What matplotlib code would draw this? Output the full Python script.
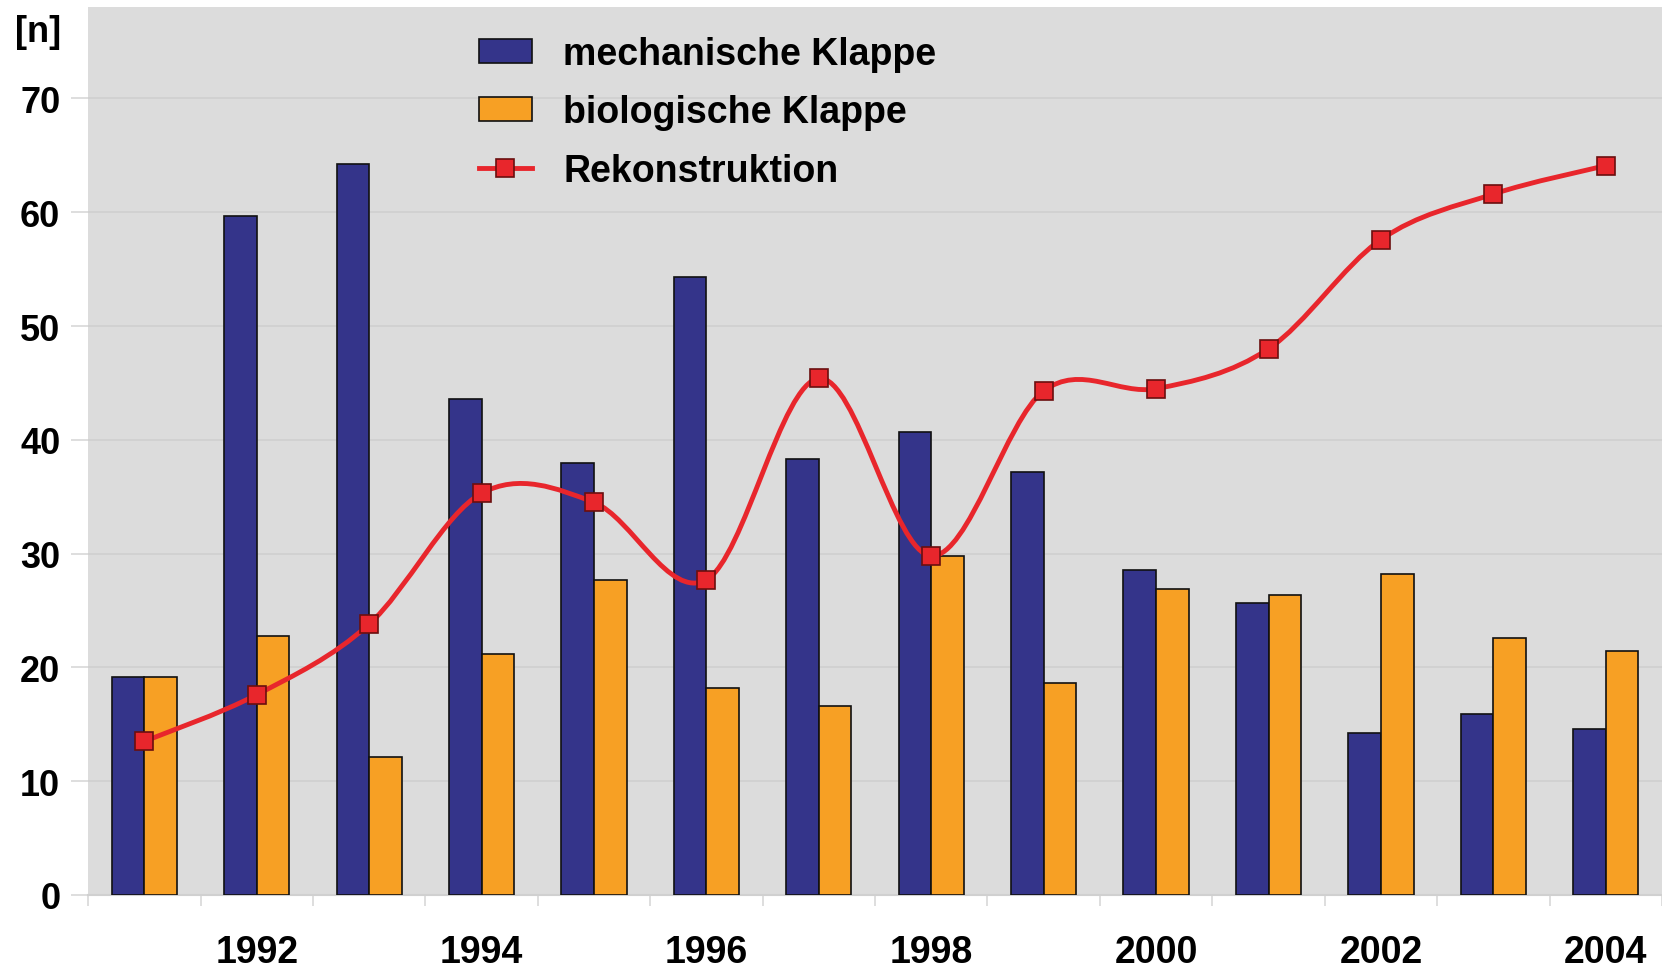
import numpy as np
import matplotlib
matplotlib.use("Agg")
import matplotlib.pyplot as plt
from matplotlib.path import Path
from matplotlib.patches import PathPatch
from matplotlib.lines import Line2D
from matplotlib.patches import Patch

# Data
years = [1991, 1992, 1993, 1994, 1995, 1996, 1997, 1998, 1999, 2000, 2001, 2002, 2003, 2004]
mechanisch = [19.2, 59.7, 64.2, 43.6, 38.0, 54.3, 38.3, 40.7, 37.2, 28.6, 25.7, 14.2, 15.9, 14.6]
biologisch = [19.2, 22.8, 12.1, 21.2, 27.7, 18.2, 16.6, 29.8, 18.6, 26.9, 26.4, 28.2, 22.6, 21.4]
rekonstruktion = [13.5, 17.6, 23.8, 35.3, 34.5, 27.7, 45.4, 29.8, 44.3, 44.5, 48.0, 57.6, 61.6, 64.1]
year_labels = ["", "1992", "", "1994", "", "1996", "", "1998", "", "2000", "", "2002", "", "2004"]

BLUE = "#34348a"
ORANGE = "#f7a024"
RED = "#e8262c"
BG = "#dcdcdc"

plt.rcParams["font.family"] = ["Liberation Sans", "DejaVu Sans"]
plt.rcParams["font.weight"] = "bold"


def smooth_path(xs, ys):
    """Excel-like smoothed line as a cubic Bezier path through the points."""
    pts = np.column_stack([xs, ys]).astype(float)
    n = len(pts)
    verts = [pts[0]]
    codes = [Path.MOVETO]
    for i in range(n - 1):
        p0 = pts[i - 1] if i > 0 else pts[i]
        p1 = pts[i]
        p2 = pts[i + 1]
        p3 = pts[i + 2] if i + 2 < n else pts[i + 1]
        c1 = p1 + (p2 - p0) / 6.0
        c2 = p2 - (p3 - p1) / 6.0
        verts += [c1, c2, p2]
        codes += [Path.CURVE4] * 3
    return Path(verts, codes)


fig = plt.figure(figsize=(16.62, 9.70), dpi=100)
ax = fig.add_axes([0.053, 0.0763, 0.947, 0.915])
ax.set_facecolor(BG)

x = np.arange(len(years))
w = 0.29
ax.bar(x - w / 2, mechanisch, w, color=BLUE, edgecolor="#111111", linewidth=1.2, zorder=3)
ax.bar(x + w / 2, biologisch, w, color=ORANGE, edgecolor="#111111", linewidth=1.2, zorder=3)

curve = PathPatch(smooth_path(x, rekonstruktion), facecolor="none", edgecolor=RED,
                  linewidth=3.5, zorder=4, capstyle="round", joinstyle="round")
ax.add_patch(curve)
ax.plot(x, rekonstruktion, linestyle="none", marker="s", markersize=13,
        markerfacecolor=RED, markeredgecolor="#6a0f0f", markeredgewidth=1.2, zorder=5)

ax.set_xlim(-0.5, len(years) - 0.5)
ax.set_ylim(0, 78)
ax.set_yticks(range(0, 80, 10))
ax.grid(axis="y", color="#cfcfcf", linewidth=1.2, zorder=0)

# category labels at group centres, tick marks at group boundaries
ax.set_xticks(x)
ax.set_xticklabels(year_labels, fontsize=27, fontweight="bold")
ax.tick_params(axis="x", length=0, pad=28)
ax.set_xticks(np.arange(-0.5, len(years), 1.0), minor=True)
ax.tick_params(axis="x", which="minor", length=8, color="#d8d8d8", width=1.2)
ax.tick_params(axis="y", length=12, color="#d8d8d8", width=1.2, labelsize=26, pad=8)
for lbl in ax.get_yticklabels():
    lbl.set_fontweight("bold")

for side in ["top", "right", "left"]:
    ax.spines[side].set_visible(False)
ax.spines["bottom"].set_color("#d0d0d0")
ax.spines["bottom"].set_linewidth(1.5)

fig.text(0.009, 0.966, "[n]", fontsize=26, fontweight="bold", va="center", ha="left")

handles = [
    Patch(facecolor=BLUE, edgecolor="#111111", linewidth=1.2),
    Patch(facecolor=ORANGE, edgecolor="#111111", linewidth=1.2),
    Line2D([0], [0], color=RED, linewidth=3.5, marker="s", markersize=13,
           markerfacecolor=RED, markeredgecolor="#6a0f0f", markeredgewidth=1.2),
]
ax.legend(handles, ["mechanische Klappe", "biologische Klappe", "Rekonstruktion"],
          loc="upper left", bbox_to_anchor=(0.288, 0.962), bbox_transform=fig.transFigure,
          frameon=False, fontsize=27, handlelength=1.41, handleheight=0.6,
          handletextpad=0.85, labelspacing=0.6, borderpad=0, borderaxespad=0)

fig.savefig("out.png", dpi=100)
